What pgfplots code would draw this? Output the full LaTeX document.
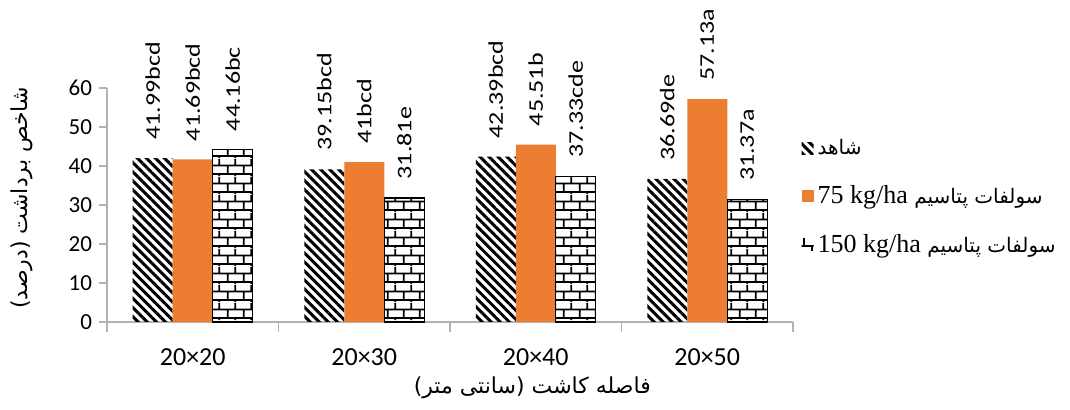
\documentclass[border=0pt]{standalone}
\usepackage{pgfplots}
\pgfplotsset{compat=1.18}
\usetikzlibrary{patterns,patterns.meta}
\usepackage{fontspec}
\setmainfont{Carlito}
\newfontfamily\fa[Script=Arabic]{DejaVu Sans}
\newfontfamily\tnr{Liberation Serif}
\TeXXeTstate=1
\definecolor{barorange}{HTML}{ED7D31}
\tikzdeclarepattern{
  name=bricks,
  type=colored,
  bounding box={(0pt,0pt) and (8pt,9pt)},
  tile size={(8pt,9pt)},
  code={
    \draw[line width=0.9pt,black] (0pt,1pt) -- (8pt,1pt) (0pt,5.5pt) -- (8pt,5.5pt)
      (2pt,1pt) -- (2pt,5.5pt) (6pt,5.5pt) -- (6pt,9pt) (6pt,0pt) -- (6pt,1pt);
  }
}
\begin{document}
\begin{tikzpicture}
\begin{axis}[
  at={(0pt,0pt)}, anchor=south west,
  scale only axis, width=343pt, height=117pt,
  xmin=-0.5, xmax=3.5, ymin=0, ymax=60,
  ybar=0pt, bar width=20pt,
  axis x line*=bottom, axis y line*=left,
  axis line style={-, draw=gray!60, line width=0.6pt},
  xtick={0,1,2,3},
  xticklabels={20×20,20×30,20×40,20×50},
  minor xtick={-0.5,0.5,1.5,2.5,3.5},
  ytick={0,10,...,60},
  tick align=outside,
  tick style={gray!60, line width=0.6pt},
  major x tick style={draw=none},
  major tick length=4pt,
  minor tick length=5pt,
  xticklabel style={font=\fontsize{13}{15}\selectfont, yshift=-6pt},
  yticklabel style={font=\fontsize{11.5}{13}\selectfont},
  /pgf/number format/assume math mode=true,
  clip=false,
  nodes near coords,
  point meta=explicit symbolic,
  nodes near coords align={anchor=west},
  every node near coord/.append style={rotate=90, yscale=0.8, anchor=west, inner xsep=9pt, inner ysep=0pt, font=\fontsize{13}{15}\selectfont, text=black},
  xlabel={\fa\beginR فاصله کاشت (سانتی متر)\endR},
  xlabel style={at={(axis description cs:0.62,-0.282)}, anchor=center, font=\fontsize{11}{13}\selectfont},
  ylabel={\fa\beginR شاخص برداشت (درصد)\endR},
  ylabel style={at={(axis description cs:-0.124,0.53)}, anchor=center, font=\fontsize{11}{13}\selectfont},
  legend style={at={(axis description cs:1.012,0.80)}, anchor=north west, draw=none, fill=none,
    font=\fontsize{10}{12}\selectfont, row sep=10pt, inner sep=0pt},
  legend cell align=left,
  legend image code/.code={\path[#1, draw=none] (0pt,-3pt) rectangle (6pt,3pt);},
]
\addplot[draw=none, pattern={Lines[angle=-45,distance=3.2pt,line width=1.5pt]}, pattern color=black]
  coordinates {(0,41.99) [41.99bcd] (1,39.15) [39.15bcd] (2,42.39) [42.39bcd] (3,36.69) [36.69de]};
\addlegendentry{\fa\beginR شاهد\endR}
\addplot[draw=none, fill=barorange]
  coordinates {(0,41.69) [41.69bcd] (1,41) [41bcd] (2,45.51) [45.51b] (3,57.13) [57.13a]};
\addlegendentry{\fa\beginR سولفات پتاسیم \beginL{\tnr\fontsize{13}{15}\selectfont 75 kg/ha}\endL\endR}
\addplot[draw=black, line width=0.7pt, pattern=bricks]
  coordinates {(0,44.16) [44.16bc] (1,31.81) [31.81e] (2,37.33) [37.33cde] (3,31.37) [31.37a]};
\addlegendentry{\fa\beginR سولفات پتاسیم \beginL{\tnr\fontsize{13}{15}\selectfont 150 kg/ha}\endL\endR}
\end{axis}
\pgfresetboundingbox
\path (-53.5pt,-44pt) rectangle (481.5pt,161pt);
\end{tikzpicture}
\end{document}
